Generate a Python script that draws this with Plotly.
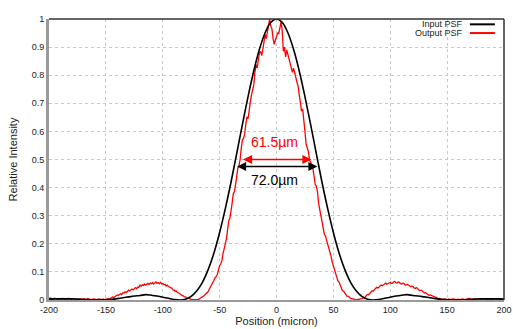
import plotly.graph_objects as go

# ---------------- data ----------------
black_x = list(range(-200, 201, 5))
black_y = [
    0.003, 0.004, 0.004, 0.004, 0.004, 0.003, 0.002, 0.001, 0.000, 0.000,
    0.001, 0.002, 0.005, 0.008, 0.011, 0.014, 0.016, 0.019, 0.017, 0.014,
    0.010, 0.006, 0.002, 0.000, 0.003, 0.013, 0.033, 0.064, 0.109, 0.167,
    0.240, 0.325, 0.419, 0.521, 0.624, 0.724, 0.815, 0.892, 0.951, 0.988,
    1.000,
    0.988, 0.951, 0.892, 0.815, 0.724, 0.624, 0.521, 0.419, 0.325, 0.240,
    0.167, 0.109, 0.064, 0.033, 0.013, 0.003, 0.000, 0.002, 0.006, 0.010,
    0.014, 0.017, 0.019, 0.016, 0.014, 0.011, 0.008, 0.005, 0.002, 0.001,
    0.000, 0.000, 0.001, 0.002, 0.003, 0.004, 0.004, 0.004, 0.004, 0.003,
]

red_x = list(range(-200, 201, 1))
red_y = [
    # -200 .. -181
    0.004, 0.007, 0.006, 0.002, 0.003, 0.006, 0.005, 0.003, 0.002, 0.005,
    0.004, 0.001, 0.006, 0.004, 0.002, 0.005, 0.003, 0.006, 0.004, 0.002,
    # -180 .. -161
    0.002, 0.004, 0.005, 0.002, 0.003, 0.001, 0.001, 0.004, 0.004, 0.002,
    0.003, 0.005, 0.002, 0.001, 0.005, 0.003, 0.003, 0.001, 0.002, 0.004,
    # -160 .. -141
    0.003, 0.002, 0.001, 0.003, 0.004, 0.002, 0.002, 0.004, 0.003, 0.001,
    0.002, 0.004, 0.005, 0.003, 0.005, 0.008, 0.011, 0.009, 0.012, 0.014,
    # -140 .. -121
    0.018, 0.016, 0.020, 0.023, 0.019, 0.026, 0.025, 0.029, 0.027, 0.031,
    0.035, 0.032, 0.036, 0.039, 0.036, 0.041, 0.044, 0.040, 0.046, 0.045,
    # -120 .. -101
    0.053, 0.049, 0.054, 0.052, 0.057, 0.053, 0.056, 0.059, 0.055, 0.060,
    0.058, 0.062, 0.057, 0.061, 0.064, 0.059, 0.062, 0.058, 0.063, 0.057,
    # -100 .. -81
    0.059, 0.055, 0.056, 0.050, 0.053, 0.048, 0.047, 0.044, 0.042, 0.036,
    0.035, 0.031, 0.032, 0.026, 0.025, 0.021, 0.020, 0.016, 0.015, 0.011,
    # -80 .. -61
    0.011, 0.007, 0.007, 0.004, 0.004, 0.002, 0.002, 0.000, 0.000, 0.001,
    0.002, 0.001, 0.004, 0.006, 0.008, 0.012, 0.014, 0.018, 0.022, 0.027,
    # -60 .. -41
    0.030, 0.039, 0.047, 0.050, 0.058, 0.070, 0.080, 0.083, 0.092, 0.108,
    0.122, 0.128, 0.140, 0.165, 0.188, 0.200, 0.218, 0.255, 0.282, 0.290,
    # -40 .. -21
    0.312, 0.345, 0.378, 0.385, 0.410, 0.445, 0.470, 0.478, 0.500, 0.540,
    0.570, 0.575, 0.590, 0.625, 0.652, 0.645, 0.668, 0.705, 0.730, 0.745,
    # -20 .. -1
    0.765, 0.810, 0.838, 0.825, 0.862, 0.880, 0.885, 0.870, 0.892, 0.925,
    0.945, 0.930, 0.955, 0.985, 1.000, 0.975, 0.965, 0.930, 0.910, 0.925,
    # 0 .. 19
    0.935, 0.950, 0.948, 0.975, 0.990, 0.960, 0.885, 0.900, 0.865, 0.890,
    0.875, 0.850, 0.835, 0.820, 0.810, 0.825, 0.805, 0.790, 0.775, 0.760,
    # 20 .. 39
    0.735, 0.700, 0.672, 0.680, 0.648, 0.600, 0.555, 0.545, 0.528, 0.500,
    0.485, 0.480, 0.468, 0.440, 0.412, 0.405, 0.386, 0.345, 0.315, 0.300,
    # 40 .. 59
    0.280, 0.255, 0.235, 0.228, 0.215, 0.195, 0.180, 0.170, 0.155, 0.135,
    0.120, 0.112, 0.098, 0.080, 0.068, 0.064, 0.055, 0.042, 0.033, 0.031,
    # 60 .. 79
    0.026, 0.018, 0.014, 0.013, 0.011, 0.006, 0.004, 0.004, 0.003, 0.001,
    0.000, 0.001, 0.002, 0.003, 0.002, 0.005, 0.007, 0.008, 0.010, 0.016,
    # 80 .. 99
    0.020, 0.019, 0.023, 0.029, 0.033, 0.031, 0.035, 0.041, 0.045, 0.043,
    0.045, 0.050, 0.053, 0.051, 0.053, 0.057, 0.060, 0.056, 0.058, 0.062,
    # 100 .. 119
    0.063, 0.059, 0.060, 0.065, 0.066, 0.061, 0.060, 0.064, 0.063, 0.058,
    0.057, 0.060, 0.059, 0.054, 0.053, 0.056, 0.054, 0.049, 0.047, 0.050,
    # 120 .. 139
    0.048, 0.043, 0.041, 0.044, 0.041, 0.036, 0.033, 0.035, 0.033, 0.028,
    0.025, 0.026, 0.024, 0.019, 0.017, 0.018, 0.016, 0.012, 0.010, 0.011,
    # 140 .. 159
    0.010, 0.007, 0.005, 0.006, 0.005, 0.003, 0.002, 0.004, 0.003, 0.001,
    0.001, 0.003, 0.003, 0.001, 0.002, 0.004, 0.004, 0.002, 0.001, 0.003,
    # 160 .. 179
    0.003, 0.001, 0.002, 0.004, 0.004, 0.002, 0.001, 0.003, 0.003, 0.006,
    0.005, 0.002, 0.002, 0.004, 0.003, 0.001, 0.001, 0.004, 0.004, 0.002,
    # 180 .. 199
    0.002, 0.005, 0.004, 0.002, 0.003, 0.001, 0.003, 0.004, 0.002, 0.001,
    0.003, 0.005, 0.004, 0.002, 0.003, 0.002, 0.001, 0.003, 0.004, 0.001,
    # 200
    0.003,
]

series_names = ["Input PSF", "Output PSF"]
series_colors = ["#000000", "#ff0000"]
fwhm_values = [72.0, 61.5]          # micron
fwhm_levels = [0.475, 0.50]         # height of the width arrows
fwhm_labels = ["72.0µm", "61.5µm"]
fwhm_label_y = [0.428, 0.564]

x_ticks = [-200, -150, -100, -50, 0, 50, 100, 150, 200]
y_ticks = [0, 0.1, 0.2, 0.3, 0.4, 0.5, 0.6, 0.7, 0.8, 0.9, 1]

FONT = "Liberation Sans"

fig = go.Figure()
fig.add_trace(go.Scatter(x=red_x, y=red_y, mode="lines", name=series_names[1],
                         line=dict(color=series_colors[1], width=1.3),
                         showlegend=False))
fig.add_trace(go.Scatter(x=black_x, y=black_y, mode="lines", name=series_names[0],
                         line=dict(color=series_colors[0], width=1.6, shape="spline"),
                         showlegend=False))

# FWHM arrows and labels
for w, lev, lab, ly, col in zip(fwhm_values, fwhm_levels, fwhm_labels, fwhm_label_y, series_colors):
    fig.add_annotation(x=w / 2, y=lev, ax=-w / 2, ay=lev, xref="x", yref="y",
                       axref="x", ayref="y", text="", showarrow=True,
                       arrowhead=2, arrowside="end+start", arrowsize=1.3,
                       arrowwidth=1.4, arrowcolor=col)
    fig.add_annotation(x=-1.8, y=ly, xref="x", yref="y", text=lab, showarrow=False,
                       font=dict(family=FONT, size=14, color=col))

# manual legend (text then line sample)
leg_y = [0.981, 0.950]
for name, col, yy in zip(series_names, series_colors, leg_y):
    fig.add_annotation(x=0.915, y=yy, xref="paper", yref="paper", text=name,
                       showarrow=False, xanchor="right", yanchor="middle",
                       font=dict(family=FONT, size=9, color="#222222"))
    fig.add_shape(type="line", xref="paper", yref="paper", x0=0.925, x1=0.98,
                  y0=yy, y1=yy, line=dict(color=col, width=2))

# top and right frame lines (dark)
fig.add_shape(type="line", xref="paper", yref="paper", x0=0, x1=1, y0=1, y1=1,
              line=dict(color="#333333", width=1.5))
fig.add_shape(type="line", xref="paper", yref="paper", x0=1, x1=1, y0=0, y1=1,
              line=dict(color="#333333", width=1.5))

fig.update_layout(
    width=513, height=329,
    margin=dict(l=49, r=9, t=19, b=29, autoexpand=False),
    paper_bgcolor="white", plot_bgcolor="white",
    font=dict(family=FONT, size=9, color="#222222"),
    showlegend=False,
)
fig.update_xaxes(range=[-200, 200], tickvals=x_ticks, ticktext=[str(v) for v in x_ticks],
                 showgrid=True, gridcolor="#c8c8c8", griddash="3px,3px", gridwidth=1,
                 showline=True, linecolor="#9a9a9a", linewidth=2, zeroline=False,
                 ticks="", automargin=False,
                 tickfont=dict(size=9, family=FONT, color="#222222"),
                 title=dict(text="Position (micron)", font=dict(size=11, family=FONT, color="#222222"),
                            standoff=4))
fig.update_yaxes(range=[0, 1], tickvals=y_ticks, ticktext=[f"{v:g}" for v in y_ticks],
                 showgrid=True, gridcolor="#c8c8c8", griddash="3px,3px", gridwidth=1,
                 showline=True, linecolor="#9a9a9a", linewidth=3, zeroline=False,
                 ticks="", automargin=False,
                 tickfont=dict(size=9, family=FONT, color="#222222"),
                 title=dict(text="Relative Intensity", font=dict(size=11, family=FONT, color="#222222"),
                            standoff=12))

fig.write_html("out.html", config={"displayModeBar": False},
               post_script="document.body.style.margin='0';document.body.style.overflow='hidden';")
